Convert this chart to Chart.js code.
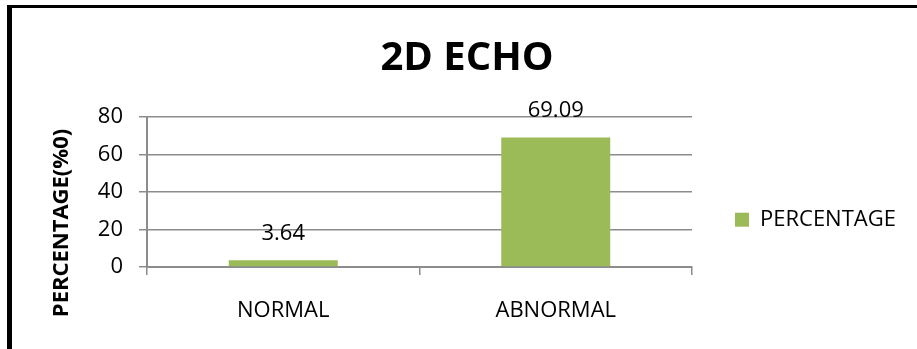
<!DOCTYPE html>
<html>
<head>
<meta charset="utf-8">
<script src="https://cdn.jsdelivr.net/npm/chart.js@4.4.1/dist/chart.umd.min.js"></script>
<style>
  html, body { margin: 0; padding: 0; background: #fff; }
  #wrap { position: relative; width: 917px; height: 349px; overflow: hidden; }
  #frame {
    position: absolute; left: 7px; top: 5px; width: 960px; height: 400px;
    border-left: 5px solid #000; border-top: 3px solid #000;
    pointer-events: none;
  }
  canvas { position: absolute; left: 0; top: 0; }
</style>
</head>
<body>
<div id="wrap">
  <div id="frame"></div>
  <canvas id="echo-chart" width="917" height="349"></canvas>
</div>
<script>
// 데이터
const chartTitle = '2D ECHO';
const yAxisTitle = 'PERCENTAGE(%0)';
const seriesName = 'PERCENTAGE';
const categories = ['NORMAL', 'ABNORMAL'];
const percentages = [3.64, 69.09];
const yTicks = [0, 20, 40, 60, 80];

const FONT = "'Open Sans', 'DejaVu Sans', sans-serif";
const barColor = '#9BBB59';
const gridColor = '#8c8c8c';

// 범례 폭을 미리 재서 플롯 영역 오른쪽 끝을 맞춘다
const measure = document.createElement('canvas').getContext('2d');
measure.font = `22px ${FONT}`;
const legendTextW = measure.measureText(seriesName).width;
const legendPad = 43;
const legendW = legendPad + 14 + 11 + legendTextW + 10;
const padRight = 917 - 692 - legendW;
const padLeft = 2 * 467 - 917 + padRight;

// 막대 위 값 표시
const valueLabels = {
  id: 'valueLabels',
  afterDatasetsDraw(chart) {
    const { ctx } = chart;
    const meta = chart.getDatasetMeta(0);
    ctx.save();
    ctx.font = `22px ${FONT}`;
    ctx.fillStyle = '#000';
    ctx.textAlign = 'center';
    ctx.textBaseline = 'alphabetic';
    meta.data.forEach((bar, i) => {
      ctx.fillText(percentages[i].toFixed(2), bar.x, bar.y - 20);
    });
    ctx.restore();
  }
};

// 세로축 제목 (플롯보다 약간 아래쪽 중심)
const yTitle = {
  id: 'yTitle',
  afterDraw(chart) {
    const { ctx, chartArea } = chart;
    ctx.save();
    ctx.translate(chartArea.left - 85, 223);
    ctx.rotate(-Math.PI / 2);
    ctx.font = `bold 22px ${FONT}`;
    ctx.fillStyle = '#000';
    ctx.textAlign = 'center';
    ctx.textBaseline = 'middle';
    ctx.fillText(yAxisTitle, 0, 0);
    ctx.restore();
  }
};

const ctx = document.getElementById('echo-chart').getContext('2d');
const echoChart = new Chart(ctx, {
  type: 'bar',
  data: {
    labels: categories,
    datasets: [{
      label: seriesName,
      data: percentages,
      backgroundColor: barColor,
      borderWidth: 0,
      categoryPercentage: 1,
      barPercentage: 0.4
    }]
  },
  options: {
    responsive: false,
    animation: false,
    layout: { padding: { left: padLeft, right: padRight, top: 0, bottom: 24 } },
    plugins: {
      title: {
        display: true,
        text: chartTitle,
        color: '#000',
        font: { family: FONT, size: 40, weight: 'bold', lineHeight: 1.2 },
        padding: { top: 35, bottom: 34 }
      },
      legend: {
        position: 'right',
        align: 'center',
        // 빈 제목으로 범례 항목을 아래로 내린다
        title: { display: true, text: '', padding: { top: 100, bottom: 0 }, font: { size: 12 } },
        labels: {
          color: '#000',
          font: { family: FONT, size: 22 },
          boxWidth: 14,
          boxHeight: 14,
          padding: legendPad
        }
      },
      tooltip: { enabled: false }
    },
    scales: {
      x: {
        grid: {
          offset: true,
          drawOnChartArea: false,
          drawTicks: true,
          tickLength: 8,
          color: gridColor,
          lineWidth: 1.5
        },
        border: { color: gridColor, width: 2 },
        ticks: { color: '#000', font: { family: FONT, size: 22 }, padding: 23 },
        afterFit(scale) { scale.height = 58; }
      },
      y: {
        min: yTicks[0],
        max: yTicks[yTicks.length - 1],
        ticks: {
          stepSize: yTicks[1] - yTicks[0],
          color: '#000',
          font: { family: FONT, size: 22 },
          padding: 16
        },
        grid: { color: gridColor, lineWidth: 1.5, tickLength: 8 },
        border: { color: gridColor, width: 2 },
        afterFit(scale) { scale.width = 147 - padLeft; }
      }
    }
  },
  plugins: [valueLabels, yTitle]
});
</script>
</body>
</html>
